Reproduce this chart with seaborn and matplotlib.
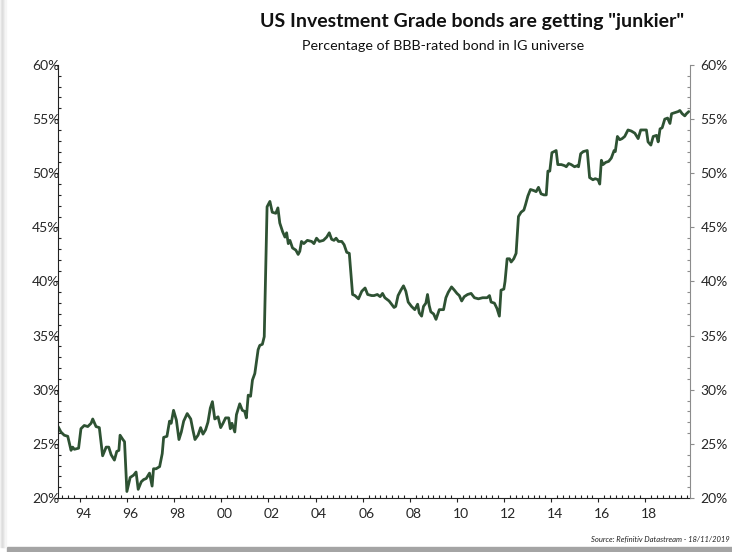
"""
US IG bonds: share of BBB-rated paper
"""

import numpy as np
import pandas as pd
import matplotlib.pyplot as plt
import matplotlib.ticker as mticker
from matplotlib.patches import Rectangle
from matplotlib.transforms import ScaledTranslation
import seaborn as sns


# decimal year / % of BBB-rated bonds in the IG universe
years = [
    1993.07, 1993.19, 1993.33, 1993.48, 1993.62, 1993.69, 1993.76, 1993.94,
    1994.04, 1994.18, 1994.33, 1994.47, 1994.54, 1994.68, 1994.82, 1994.96,
    1995.11, 1995.22, 1995.32, 1995.46, 1995.56, 1995.65, 1995.70, 1995.82,
    1995.89, 1995.99, 1996.13, 1996.27, 1996.38, 1996.47, 1996.60, 1996.70,
    1996.81, 1996.95, 1997.06, 1997.12, 1997.23, 1997.38, 1997.49, 1997.55,
    1997.69, 1997.80, 1997.87, 1997.97, 1998.09, 1998.20, 1998.30, 1998.40,
    1998.55, 1998.70, 1998.79, 1998.88, 1999.01, 1999.12, 1999.22, 1999.33,
    1999.43, 1999.53, 1999.62, 1999.72, 1999.86, 1999.97, 2000.07, 2000.18,
    2000.31, 2000.38, 2000.45, 2000.57, 2000.64, 2000.78, 2000.89, 2000.99,
    2001.06, 2001.14, 2001.24, 2001.32, 2001.42, 2001.56, 2001.63, 2001.74,
    2001.82, 2001.89, 2001.94, 2002.06, 2002.16, 2002.31, 2002.40, 2002.48,
    2002.60, 2002.70, 2002.77, 2002.84, 2002.91, 2003.02, 2003.16, 2003.26,
    2003.33, 2003.40, 2003.50, 2003.65, 2003.83, 2003.93, 2004.04, 2004.16,
    2004.33, 2004.47, 2004.58, 2004.68, 2004.78, 2004.87, 2004.97, 2005.11,
    2005.21, 2005.32, 2005.43, 2005.57, 2005.67, 2005.82, 2005.96, 2006.10,
    2006.21, 2006.38, 2006.48, 2006.62, 2006.74, 2006.84, 2006.94, 2007.12,
    2007.33, 2007.40, 2007.50, 2007.62, 2007.73, 2007.83, 2007.93, 2008.07,
    2008.21, 2008.33, 2008.40, 2008.50, 2008.58, 2008.68, 2008.75, 2008.82,
    2008.89, 2009.01, 2009.11, 2009.25, 2009.43, 2009.53, 2009.63, 2009.77,
    2009.89, 2010.00, 2010.10, 2010.20, 2010.31, 2010.45, 2010.60, 2010.74,
    2010.91, 2011.09, 2011.28, 2011.38, 2011.45, 2011.59, 2011.70, 2011.80,
    2011.87, 2011.99, 2012.04, 2012.13, 2012.23, 2012.30, 2012.41, 2012.51,
    2012.61, 2012.72, 2012.84, 2012.91, 2013.01, 2013.12, 2013.26, 2013.36,
    2013.46, 2013.57, 2013.69, 2013.79, 2013.86, 2013.94, 2014.03, 2014.21,
    2014.28, 2014.43, 2014.57, 2014.64, 2014.74, 2014.85, 2014.99, 2015.11,
    2015.16, 2015.25, 2015.36, 2015.53, 2015.63, 2015.77, 2015.87, 2015.99,
    2016.06, 2016.13, 2016.20, 2016.31, 2016.44, 2016.55, 2016.67, 2016.72,
    2016.81, 2016.91, 2017.01, 2017.12, 2017.26, 2017.40, 2017.55, 2017.69,
    2017.80, 2017.94, 2018.04, 2018.11, 2018.23, 2018.33, 2018.47, 2018.54,
    2018.62, 2018.71, 2018.82, 2018.94, 2019.04, 2019.11, 2019.25, 2019.39,
    2019.46, 2019.56, 2019.67, 2019.74, 2019.84,
]
bbb_share = [
    26.6, 26.1, 25.8, 25.7, 24.4, 24.7, 24.5, 24.6,
    26.4, 26.7, 26.6, 26.9, 27.3, 26.6, 26.5, 23.9,
    24.7, 24.7, 24.0, 23.5, 24.3, 24.4, 25.8, 25.4,
    25.2, 20.6, 21.9, 22.1, 22.4, 20.8, 21.5, 21.7,
    21.8, 22.3, 21.1, 22.7, 22.7, 22.9, 24.1, 25.6,
    25.7, 27.1, 26.9, 28.1, 27.2, 25.4, 26.1, 27.1,
    27.8, 27.3, 26.3, 25.4, 25.8, 26.5, 25.9, 26.3,
    27.0, 28.3, 28.9, 27.3, 27.5, 26.5, 26.9, 27.4,
    27.4, 26.4, 26.9, 26.1, 27.7, 28.7, 28.1, 28.0,
    27.4, 29.5, 29.4, 30.9, 31.5, 33.7, 34.1, 34.2,
    34.9, 41.7, 46.9, 47.4, 46.4, 46.3, 46.8, 45.4,
    44.6, 44.1, 44.5, 43.5, 43.8, 43.1, 42.9, 42.5,
    42.8, 43.7, 43.5, 43.8, 43.7, 43.5, 44.0, 43.7,
    43.8, 44.1, 44.5, 43.9, 43.8, 44.0, 43.7, 43.7,
    43.4, 42.7, 42.6, 38.8, 38.7, 38.4, 39.1, 39.4,
    38.8, 38.7, 38.7, 38.8, 38.6, 38.9, 38.5, 38.2,
    37.6, 37.7, 38.7, 39.2, 39.6, 39.1, 38.1, 37.7,
    37.4, 37.9, 37.1, 36.8, 37.7, 38.0, 38.8, 37.8,
    37.2, 37.0, 36.5, 37.4, 37.4, 38.5, 39.0, 39.5,
    39.2, 38.9, 38.7, 38.2, 38.6, 38.8, 38.9, 38.5,
    38.4, 38.5, 38.5, 38.7, 38.1, 38.0, 37.5, 36.8,
    39.2, 39.3, 40.0, 42.1, 42.1, 41.8, 42.1, 42.6,
    46.0, 46.4, 46.6, 47.1, 47.9, 48.5, 48.4, 48.3,
    48.7, 48.1, 48.0, 48.0, 50.2, 50.2, 51.9, 52.1,
    50.8, 50.8, 50.7, 50.6, 50.9, 50.8, 50.6, 50.7,
    50.6, 51.8, 52.0, 52.1, 49.6, 49.4, 49.5, 49.4,
    49.0, 51.2, 50.8, 51.0, 51.1, 51.4, 52.1, 52.0,
    53.4, 53.1, 53.2, 53.4, 54.0, 53.9, 53.7, 53.2,
    54.0, 54.0, 54.0, 52.9, 52.6, 53.4, 53.5, 52.9,
    54.1, 54.2, 55.0, 55.1, 54.6, 55.5, 55.6, 55.7,
    55.8, 55.5, 55.3, 55.5, 55.7,
]

y_ticks = [20, 25, 30, 35, 40, 45, 50, 55, 60]
x_ticks = list(range(1994, 2019, 2))

TITLE = 'US Investment Grade bonds are getting "junkier"'
SUBTITLE = "Percentage of BBB-rated bond in IG universe"
SOURCE = "Source: Refinitiv Datastream - 18/11/2019"
LINE = "#2e5233"


def style_shadow(fig):
    # grey page shadow on the left and bottom edges
    fig.patches.append(
        Rectangle((7 / 732, 0), 1, 5 / 552, transform=fig.transFigure,
                  color="#a4a4a4", zorder=0)
    )
    shades = ["#f4f4f4", "#e6e6e6", "#dcdcdc", "#e2e2e2", "#ececec", "#f5f5f5"]
    for i, c in enumerate(shades):
        fig.patches.append(
            Rectangle((i / 732, 5 / 552), 1 / 732, 1, transform=fig.transFigure,
                      color=c, zorder=0)
        )


def plot_bbb(basepath="."):
    df = pd.DataFrame({"year": years, "bbb": bbb_share})

    sns.set_style("white")
    plt.rcParams["font.family"] = ["Lato", "DejaVu Sans"]

    fig = plt.figure(figsize=(7.32, 5.52), dpi=100)
    ax = fig.add_axes([58 / 732, 54 / 552, 631.5 / 732, 433 / 552])
    sns.lineplot(data=df, x="year", y="bbb", color=LINE, linewidth=2.0, ax=ax)

    ax.set_xlim(1993.066, 2019.87)
    ax.set_ylim(20, 60)
    ax.set_xlabel("")
    ax.set_ylabel("")

    # x axis
    ax.set_xticks(x_ticks)
    ax.xaxis.set_minor_locator(mticker.MultipleLocator(0.25))
    ax.xaxis.set_major_formatter(
        mticker.FuncFormatter(lambda v, p: f"{int(round(v)) % 100:02d}")
    )
    ax.tick_params(axis="x", which="major", direction="out", length=3,
                   width=0.8, color="#222222", pad=4, labelsize=10,
                   bottom=True)
    ax.tick_params(axis="x", which="minor", direction="in", length=2,
                   width=0.8, color="#222222", bottom=True)
    shift = ScaledTranslation(3.5 / 100, 0, fig.dpi_scale_trans)
    for lab in ax.get_xticklabels():
        lab.set_transform(lab.get_transform() + shift)

    # left y axis
    ax.set_yticks(y_ticks)
    ax.yaxis.set_minor_locator(mticker.MultipleLocator(1))
    pct = mticker.FuncFormatter(lambda v, p: f"{v:.0f}%")
    ax.yaxis.set_major_formatter(pct)
    ax.tick_params(axis="y", which="major", direction="out", length=3,
                   width=0.8, color="#222222", pad=-4, labelsize=10, left=True)
    ax.tick_params(axis="y", which="minor", direction="in", length=2.5,
                   width=0.8, color="#222222", left=True)

    # right y axis
    ax2 = ax.twinx()
    ax2.set_ylim(20, 60)
    ax2.set_yticks(y_ticks)
    ax2.yaxis.set_minor_locator(mticker.MultipleLocator(1))
    ax2.yaxis.set_major_formatter(pct)
    ax2.tick_params(axis="y", which="major", direction="out", length=3,
                    width=0.8, color="#8c8c8c", pad=5, labelsize=10, right=True)
    ax2.tick_params(axis="y", which="minor", direction="in", length=2.5,
                    width=0.8, color="#8c8c8c", right=True)

    for a in (ax, ax2):
        a.spines["top"].set_visible(False)
    ax.spines["right"].set_visible(False)
    ax2.spines["left"].set_visible(False)
    ax2.spines["bottom"].set_visible(False)
    ax.spines["left"].set_color("#222222")
    ax.spines["bottom"].set_color("#222222")
    ax2.spines["right"].set_color("#8c8c8c")
    for s in ("left", "bottom"):
        ax.spines[s].set_linewidth(0.8)
    ax2.spines["right"].set_linewidth(0.8)

    fig.text(472 / 732, 1 - 27 / 552, TITLE, ha="center", va="baseline",
             fontsize=14, fontweight="bold", color="#111111")
    fig.text(443 / 732, 1 - 49.5 / 552, SUBTITLE, ha="center", va="baseline",
             fontsize=10.3, color="#111111")
    fig.text(730 / 732, 1 - 541 / 552, SOURCE, ha="right", va="baseline",
             fontsize=5.5, style="italic", color="#222222")

    style_shadow(fig)
    fig.savefig(f"{basepath}/out.png", dpi=100)
    plt.close(fig)


if __name__ == "__main__":
    plot_bbb()
